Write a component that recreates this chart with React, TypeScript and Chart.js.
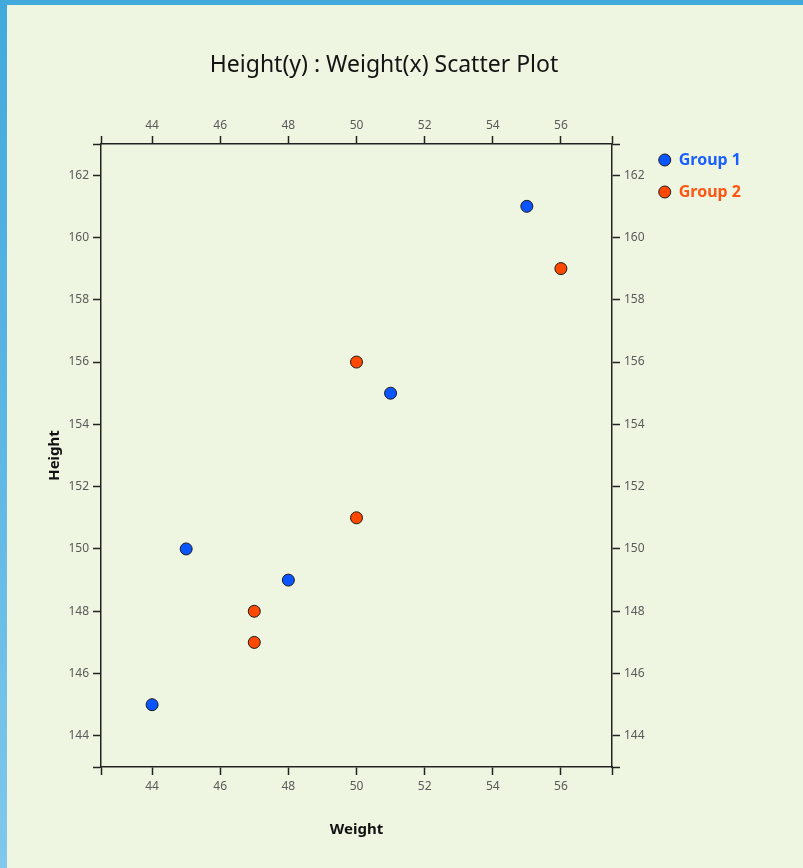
import React, { useEffect, useRef } from 'react';
import { Chart, registerables } from 'chart.js';

Chart.register(...registerables);

// ---- data ----
const seriesNames = ['Group 1', 'Group 2'];
const group1Weight = [44, 45, 48, 51, 55];
const group1Height = [145, 150, 149, 155, 161];
const group2Weight = [47, 47, 50, 50, 56];
const group2Height = [147, 148, 151, 156, 159];

const xTickValues = [44, 46, 48, 50, 52, 54, 56];
const yTickValues = [144, 146, 148, 150, 152, 154, 156, 158, 160, 162];
const xMin = 42.5;
const xMax = 57.5;
const yMin = 143;
const yMax = 163;

const chartTitle = 'Height(y) : Weight(x) Scatter Plot';
const xAxisTitle = 'Weight';
const yAxisTitle = 'Height';

// ---- styling / layout ----
const W = 803;
const H = 868;
const AREA = { left: 101, right: 612, top: 144, bottom: 767 };
const PAD = { left: 17, right: 52, top: 0, bottom: 0 };
const FONT = "'Noto Sans', 'DejaVu Sans', sans-serif";
const AXIS_COLOR = '#222222';
const TICK_COLOR = '#5a5a5a';
const pointColors = ['#0a55ff', '#ff4800'];
const legendTextColors = ['#1a5fff', '#ff5514'];

const toPoints = (xs: number[], ys: number[]) => xs.map((x, i) => ({ x, y: ys[i] }));

export default function App() {
  const ref = useRef<HTMLCanvasElement | null>(null);

  useEffect(() => {
    const canvas = ref.current;
    if (!canvas) return;

    const tickFont = { family: FONT, size: 12 };
    const gridCfg = {
      drawOnChartArea: false,
      drawTicks: true,
      tickLength: 8,
      tickColor: AXIS_COLOR,
      tickWidth: 1.5,
    };
    const borderCfg = { display: true, color: AXIS_COLOR, width: 1.5 };

    const xTicksBuild = (s: any) => {
      s.ticks = [xMin, ...xTickValues, xMax].map((v) => ({ value: v }));
    };
    const yTicksBuild = (s: any) => {
      s.ticks = [yMin, ...yTickValues, yMax].map((v) => ({ value: v }));
    };
    const xLabel = (v: any) => (xTickValues.includes(Number(v)) ? String(v) : '');
    const yLabel = (v: any) => (yTickValues.includes(Number(v)) ? String(v) : '');

    const chart = new Chart(canvas, {
      type: 'scatter',
      data: {
        datasets: [
          {
            label: seriesNames[0],
            data: toPoints(group1Weight, group1Height),
            backgroundColor: pointColors[0],
            borderColor: '#1a1a1a',
            borderWidth: 1,
            pointRadius: 6,
            pointHoverRadius: 6,
          },
          {
            label: seriesNames[1],
            data: toPoints(group2Weight, group2Height),
            backgroundColor: pointColors[1],
            borderColor: '#1a1a1a',
            borderWidth: 1,
            pointRadius: 6,
            pointHoverRadius: 6,
          },
        ],
      },
      options: {
        animation: false,
        responsive: false,
        devicePixelRatio: 1,
        events: [],
        layout: { padding: PAD },
        plugins: {
          tooltip: { enabled: false },
          title: {
            display: true,
            text: chartTitle,
            color: '#141414',
            font: { family: FONT, size: 23, weight: 'normal' },
            padding: { top: 52, bottom: 10 },
          },
          legend: {
            position: 'right',
            align: 'start',
            title: { display: true, text: '', font: { size: 10 }, padding: { top: 133, bottom: 0 } },
            labels: {
              usePointStyle: true,
              pointStyleWidth: 12,
              boxHeight: 8.5,
              padding: 7,
              font: { family: FONT, size: 16, weight: 'bold', lineHeight: '25px' },
              generateLabels: (c: any) =>
                Chart.defaults.plugins.legend.labels
                  .generateLabels(c)
                  .map((l: any, i: number) => ({ ...l, text: [l.text], fontColor: legendTextColors[i] })),
            },
          },
        },
        scales: {
          x: {
            type: 'linear',
            position: 'bottom',
            min: xMin,
            max: xMax,
            afterBuildTicks: xTicksBuild,
            afterFit: (s: any) => {
              s.height = H - PAD.bottom - AREA.bottom;
            },
            ticks: { autoSkip: false, maxRotation: 0, callback: xLabel, font: tickFont, color: TICK_COLOR, padding: 4 },
            grid: gridCfg,
            border: borderCfg,
            title: {
              display: true,
              text: xAxisTitle,
              color: '#111111',
              font: { family: FONT, size: 15, weight: 'bold' },
              padding: { top: 0, bottom: 29 },
            },
          },
          x2: {
            type: 'linear',
            position: 'top',
            min: xMin,
            max: xMax,
            afterBuildTicks: xTicksBuild,
            afterFit: (s: any) => {
              s.height = AREA.top - PAD.top - s.chart.titleBlock.height;
            },
            ticks: { autoSkip: false, maxRotation: 0, callback: xLabel, font: tickFont, color: TICK_COLOR, padding: 3 },
            grid: gridCfg,
            border: borderCfg,
          },
          y: {
            type: 'linear',
            position: 'left',
            min: yMin,
            max: yMax,
            afterBuildTicks: yTicksBuild,
            afterFit: (s: any) => {
              s.width = AREA.left - PAD.left;
            },
            ticks: { autoSkip: false, callback: yLabel, font: tickFont, color: TICK_COLOR, padding: 4 },
            grid: gridCfg,
            border: borderCfg,
            title: {
              display: true,
              text: yAxisTitle,
              color: '#111111',
              font: { family: FONT, size: 15, weight: 'bold' },
              padding: { top: 29, bottom: 0 },
            },
          },
          y2: {
            type: 'linear',
            position: 'right',
            min: yMin,
            max: yMax,
            afterBuildTicks: yTicksBuild,
            afterFit: (s: any) => {
              s.width = W - PAD.right - s.chart.legend.width - AREA.right;
            },
            ticks: { autoSkip: false, callback: yLabel, font: tickFont, color: TICK_COLOR, padding: 4 },
            grid: gridCfg,
            border: borderCfg,
          },
        },
      } as any,
    });

    return () => chart.destroy();
  }, []);

  return (
    <div
      style={{
        position: 'absolute',
        left: 0,
        top: 0,
        width: W,
        height: H,
        overflow: 'hidden',
        background: 'linear-gradient(180deg, #42a9dc 0%, #5cb7e3 50%, #80c8ec 100%)',
      }}
    >
      <div style={{ position: 'absolute', left: 7, top: 5, right: 0, bottom: 0, background: '#eef6e1' }} />
      <canvas ref={ref} width={W} height={H} style={{ position: 'absolute', left: 0, top: 0, width: W, height: H }} />
    </div>
  );
}
